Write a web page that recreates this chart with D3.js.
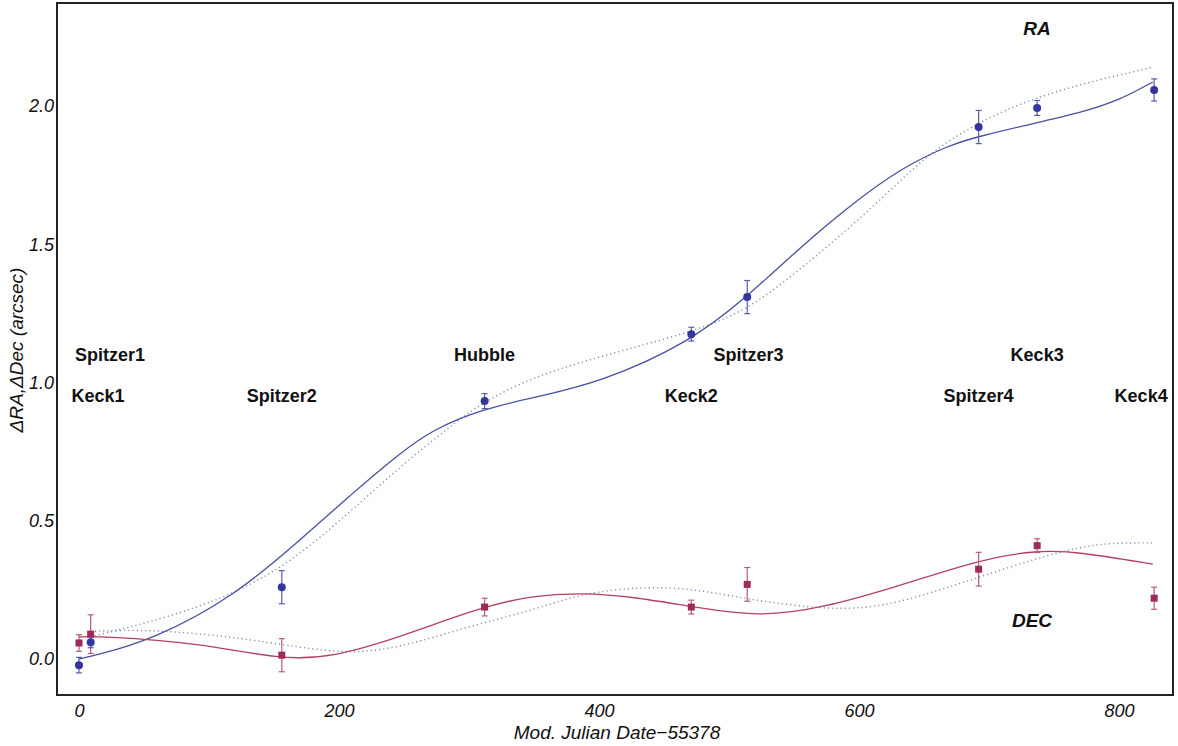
<!DOCTYPE html>
<html>
<head>
<meta charset="utf-8">
<script src="https://cdn.jsdelivr.net/npm/d3@7"></script>
<style>
  body { margin: 0; background: #fff; }
  svg { display: block; font-family: "Liberation Sans", Arial, sans-serif; }
</style>
</head>
<body>
<div id="chart"></div>
<script>
/* astrometric offsets with two orbit fits */

// observation epochs (MJD - 55378)
const epochs = [0, 9, 156, 312, 471, 514, 692, 737, 827];

// RA offsets and errors (arcsec)
const raVals = [-0.022, 0.061, 0.26, 0.933, 1.175, 1.309, 1.924, 1.993, 2.058];
const raErr  = [0.028, 0.02, 0.06, 0.027, 0.025, 0.06, 0.06, 0.027, 0.04];

// Dec offsets and errors (arcsec)
const decVals = [0.058, 0.09, 0.014, 0.188, 0.188, 0.27, 0.325, 0.41, 0.22];
const decErr  = [0.03, 0.07, 0.06, 0.032, 0.025, 0.061, 0.061, 0.025, 0.04];

// fitted curves: [epoch, offset]
const raFit = [[0,0.0],[10,0.01],[57,0.07],[119,0.225],[170,0.43],[208,0.59],[247,0.745],[272,0.83],
  [311,0.905],[349,0.945],[401,1.0],[470,1.146],[514,1.31],[555,1.49],[593,1.64],[632,1.775],
  [670,1.86],[692,1.89],[737,1.94],[770,1.975],[800,2.02],[826,2.087]];
const raAlt = [[9,0.08],[93,0.18],[156,0.32],[208,0.53],[247,0.695],[285,0.84],[311,0.93],
  [349,1.02],[401,1.095],[470,1.18],[514,1.26],[555,1.41],[593,1.56],[632,1.73],[657,1.84],
  [692,1.94],[724,2.01],[770,2.08],[826,2.14]];
const decFit = [[0,0.08],[16,0.083],[93,0.058],[155,-0.002],[195,0.006],[247,0.08],[311,0.19],
  [349,0.23],[388,0.24],[426,0.225],[470,0.19],[523,0.152],[571,0.184],[628,0.26],[693,0.36],
  [737,0.394],[770,0.387],[826,0.343]];
const decAlt = [[9,0.1],[55,0.108],[119,0.08],[170,0.042],[208,0.02],[247,0.04],[298,0.116],
  [349,0.176],[388,0.24],[439,0.264],[478,0.25],[516,0.215],[571,0.18],[614,0.184],[656,0.24],
  [693,0.297],[737,0.365],[770,0.405],[792,0.42],[826,0.42]];

// telescope labels
const labelNames = ["Spitzer1", "Keck1", "Spitzer2", "Hubble", "Keck2", "Spitzer3", "Spitzer4", "Keck3", "Keck4"];
const labelX     = [23.8, 14.6, 156, 312, 471, 515, 692, 737, 817];
const labelY     = [1.10, 0.951, 0.951, 1.10, 0.951, 1.10, 0.951, 1.10, 0.951];

const xTicks = [0, 200, 400, 600, 800];
const yTicks = [0.0, 0.5, 1.0, 1.5, 2.0];

const width = 1178,
      height = 746,
      margin = ({ top: 3, right: 5, bottom: 51, left: 57 });

let svg = d3.select("#chart")
    .append("svg")
    .attr("width", width)
    .attr("height", height);

let x = d3.scaleLinear()
    .domain([-16.9, 841.5])
    .range([margin.left, width - margin.right]);

let y = d3.scaleLinear()
    .domain([-0.130, 2.3725])
    .range([height - margin.bottom, margin.top]);

/* axes: labels only, no tick marks */
const xAxis = g => g
    .attr("transform", `translate(0, ${height - margin.bottom})`)
    .call(d3.axisBottom(x).tickValues(xTicks).tickSize(0).tickPadding(9).tickFormat(d3.format("d")))
    .call(g => g.select(".domain").remove())
    .call(g => g.selectAll("text")
        .attr("font-size", 18).attr("font-style", "italic")
        .attr("font-family", "Liberation Sans, Arial, sans-serif").attr("fill", "#111"));

const yAxis = g => g
    .attr("transform", `translate(${margin.left - 3}, 0)`)
    .call(d3.axisLeft(y).tickValues(yTicks).tickSize(0).tickPadding(0).tickFormat(d3.format(".1f")))
    .call(g => g.select(".domain").remove())
    .call(g => g.selectAll("text")
        .attr("font-size", 18).attr("font-style", "italic")
        .attr("font-family", "Liberation Sans, Arial, sans-serif").attr("fill", "#111"));

svg.append("g").call(xAxis);
svg.append("g").call(yAxis);

svg.append("text")
    .attr("x", 617)
    .attr("y", 739)
    .attr("text-anchor", "middle")
    .attr("font-size", 19)
    .attr("font-style", "italic")
    .attr("fill", "#111")
    .text("Mod. Julian Date\u221255378");

svg.append("text")
    .attr("transform", "translate(23, 350) rotate(-90)")
    .attr("text-anchor", "middle")
    .attr("font-size", 19)
    .attr("font-style", "italic")
    .attr("fill", "#111")
    .text("\u0394RA,\u0394Dec (arcsec)");

/* fit curves */
const line = d3.line()
    .x(d => x(d[0]))
    .y(d => y(d[1]))
    .curve(d3.curveBasis);

svg.append("path").datum(raAlt)
    .attr("fill", "none").attr("stroke", "#7d8fb2").attr("stroke-width", 1.4)
    .attr("stroke-dasharray", "1.2,3").attr("d", line);
svg.append("path").datum(decAlt)
    .attr("fill", "none").attr("stroke", "#7d8fb2").attr("stroke-width", 1.4)
    .attr("stroke-dasharray", "1.2,3").attr("d", line);
svg.append("path").datum(raFit)
    .attr("fill", "none").attr("stroke", "#4750a0").attr("stroke-width", 1.3).attr("d", line);
svg.append("path").datum(decFit)
    .attr("fill", "none").attr("stroke", "#b3405f").attr("stroke-width", 1.3).attr("d", line);

/* error bars + points */
const ra = epochs.map((t, i) => ({ t: t, v: raVals[i], e: raErr[i] }));
const dec = epochs.map((t, i) => ({ t: t, v: decVals[i], e: decErr[i] }));

function errorBars(data, color) {
    let g = svg.append("g").attr("stroke", color).attr("stroke-width", 1.2);
    g.selectAll(".eb").data(data).join("line")
        .attr("x1", d => x(d.t)).attr("x2", d => x(d.t))
        .attr("y1", d => y(d.v - d.e)).attr("y2", d => y(d.v + d.e));
    g.selectAll(".capTop").data(data).join("line")
        .attr("x1", d => x(d.t) - 3).attr("x2", d => x(d.t) + 3)
        .attr("y1", d => y(d.v + d.e)).attr("y2", d => y(d.v + d.e));
    g.selectAll(".capBot").data(data).join("line")
        .attr("x1", d => x(d.t) - 3).attr("x2", d => x(d.t) + 3)
        .attr("y1", d => y(d.v - d.e)).attr("y2", d => y(d.v - d.e));
}

errorBars(dec, "#b45c7c");
errorBars(ra, "#5a5ca6");

svg.append("g").selectAll("rect").data(dec).join("rect")
    .attr("fill", "#9c2a5a")
    .attr("x", d => x(d.t) - 3.5)
    .attr("y", d => y(d.v) - 3.5)
    .attr("width", 7)
    .attr("height", 7);

svg.append("g").selectAll("circle").data(ra).join("circle")
    .attr("fill", "#3535a0")
    .attr("cx", d => x(d.t))
    .attr("cy", d => y(d.v))
    .attr("r", 4);

/* telescope labels */
svg.append("g").selectAll("text").data(labelNames).join("text")
    .attr("x", (d, i) => x(labelX[i]))
    .attr("y", (d, i) => y(labelY[i]))
    .attr("dy", "0.35em")
    .attr("text-anchor", "middle")
    .attr("font-size", 18)
    .attr("font-weight", "bold")
    .attr("fill", "#111")
    .text(d => d);

svg.append("text")
    .attr("x", 1037).attr("y", 35)
    .attr("text-anchor", "middle")
    .attr("font-size", 19).attr("font-weight", "bold").attr("font-style", "italic")
    .attr("fill", "#111")
    .text("RA");

svg.append("text")
    .attr("x", 1032).attr("y", 627)
    .attr("text-anchor", "middle")
    .attr("font-size", 19).attr("font-weight", "bold").attr("font-style", "italic")
    .attr("fill", "#111")
    .text("DEC");

/* frame */
svg.append("rect")
    .attr("x", margin.left)
    .attr("y", margin.top)
    .attr("width", width - margin.left - margin.right)
    .attr("height", height - margin.top - margin.bottom)
    .attr("fill", "none")
    .attr("stroke", "#222")
    .attr("stroke-width", 2);
</script>
</body>
</html>
